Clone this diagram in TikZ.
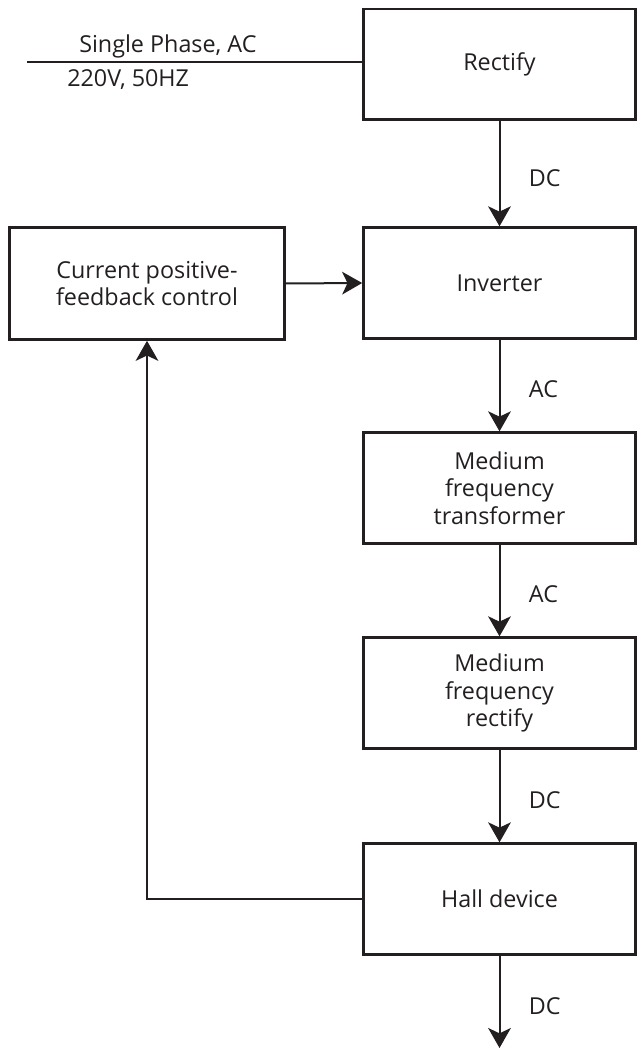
\documentclass[tikz,border=0pt]{standalone}
\usepackage{fontspec}
\setmainfont{Open Sans}
\usetikzlibrary{arrows.meta}
\definecolor{ink}{RGB}{35,31,32}
\tikzset{
	blockbox/.style={draw=ink, line width=2pt, minimum width=204pt, minimum height=83pt, align=center, inner sep=0pt, text=ink},
	flow/.style={draw=ink, line width=1.5pt, -{Stealth[length=15pt, width=17pt, inset=4pt]}},
	flowtag/.style={midway, anchor=west, xshift=18pt, yshift=-3pt, text=ink},
}

\begin{document}
\begin{tikzpicture}[x=0.75pt, y=-0.75pt, font=\fontsize{17.5}{20.5}\selectfont]
			%%%%% START %%%%%
			\useasboundingbox (0, 0) rectangle (637, 1048);
			
			\node[blockbox] (rectify) at (499.5, 64.5) {Rectify};
			\node[blockbox] (inverter) at (499.5, 283) {Inverter};
			\node[blockbox, minimum width=206pt, minimum height=84pt] (control) at (147, 283.5) {Current positive-\\feedback control};
			\node[blockbox] (transformer) at (499.5, 488) {Medium\\frequency\\transformer};
			\node[blockbox] (mfrectify) at (499.5, 693) {Medium\\frequency\\rectify};
			\node[blockbox] (hall) at (499.5, 899) {Hall device};
			
			% mains input
			\coordinate (mains) at (27, 62);
			\draw[draw=ink, line width=1.6pt] (mains) -- (mains -| rectify.west);
			\node[text=ink, anchor=base west, inner sep=0pt] (phase) at (79, 53) {Single Phase, AC};
			\node[text=ink, anchor=base west, inner sep=0pt] (voltage) at (67, 87) {220V, 50HZ};
			
			% power path
			\draw[flow] (rectify.south) -- node[flowtag] {DC} (inverter.north);
			\draw[flow] (inverter.south) -- node[flowtag] {AC} (transformer.north);
			\draw[flow] (transformer.south) -- node[flowtag] {AC} (mfrectify.north);
			\draw[flow] (mfrectify.south) -- node[flowtag] {DC} (hall.north);
			\coordinate (output) at (499.5, 1048);
			\draw[flow] (hall.south) -- node[flowtag] {DC} (output);
			
			% feedback loop
			\draw[flow] (hall.west) -| (control.south);
			\draw[flow] (control.east) -- (inverter.west);
			
			%%%%% END %%%%%
		\end{tikzpicture}
\end{document}
